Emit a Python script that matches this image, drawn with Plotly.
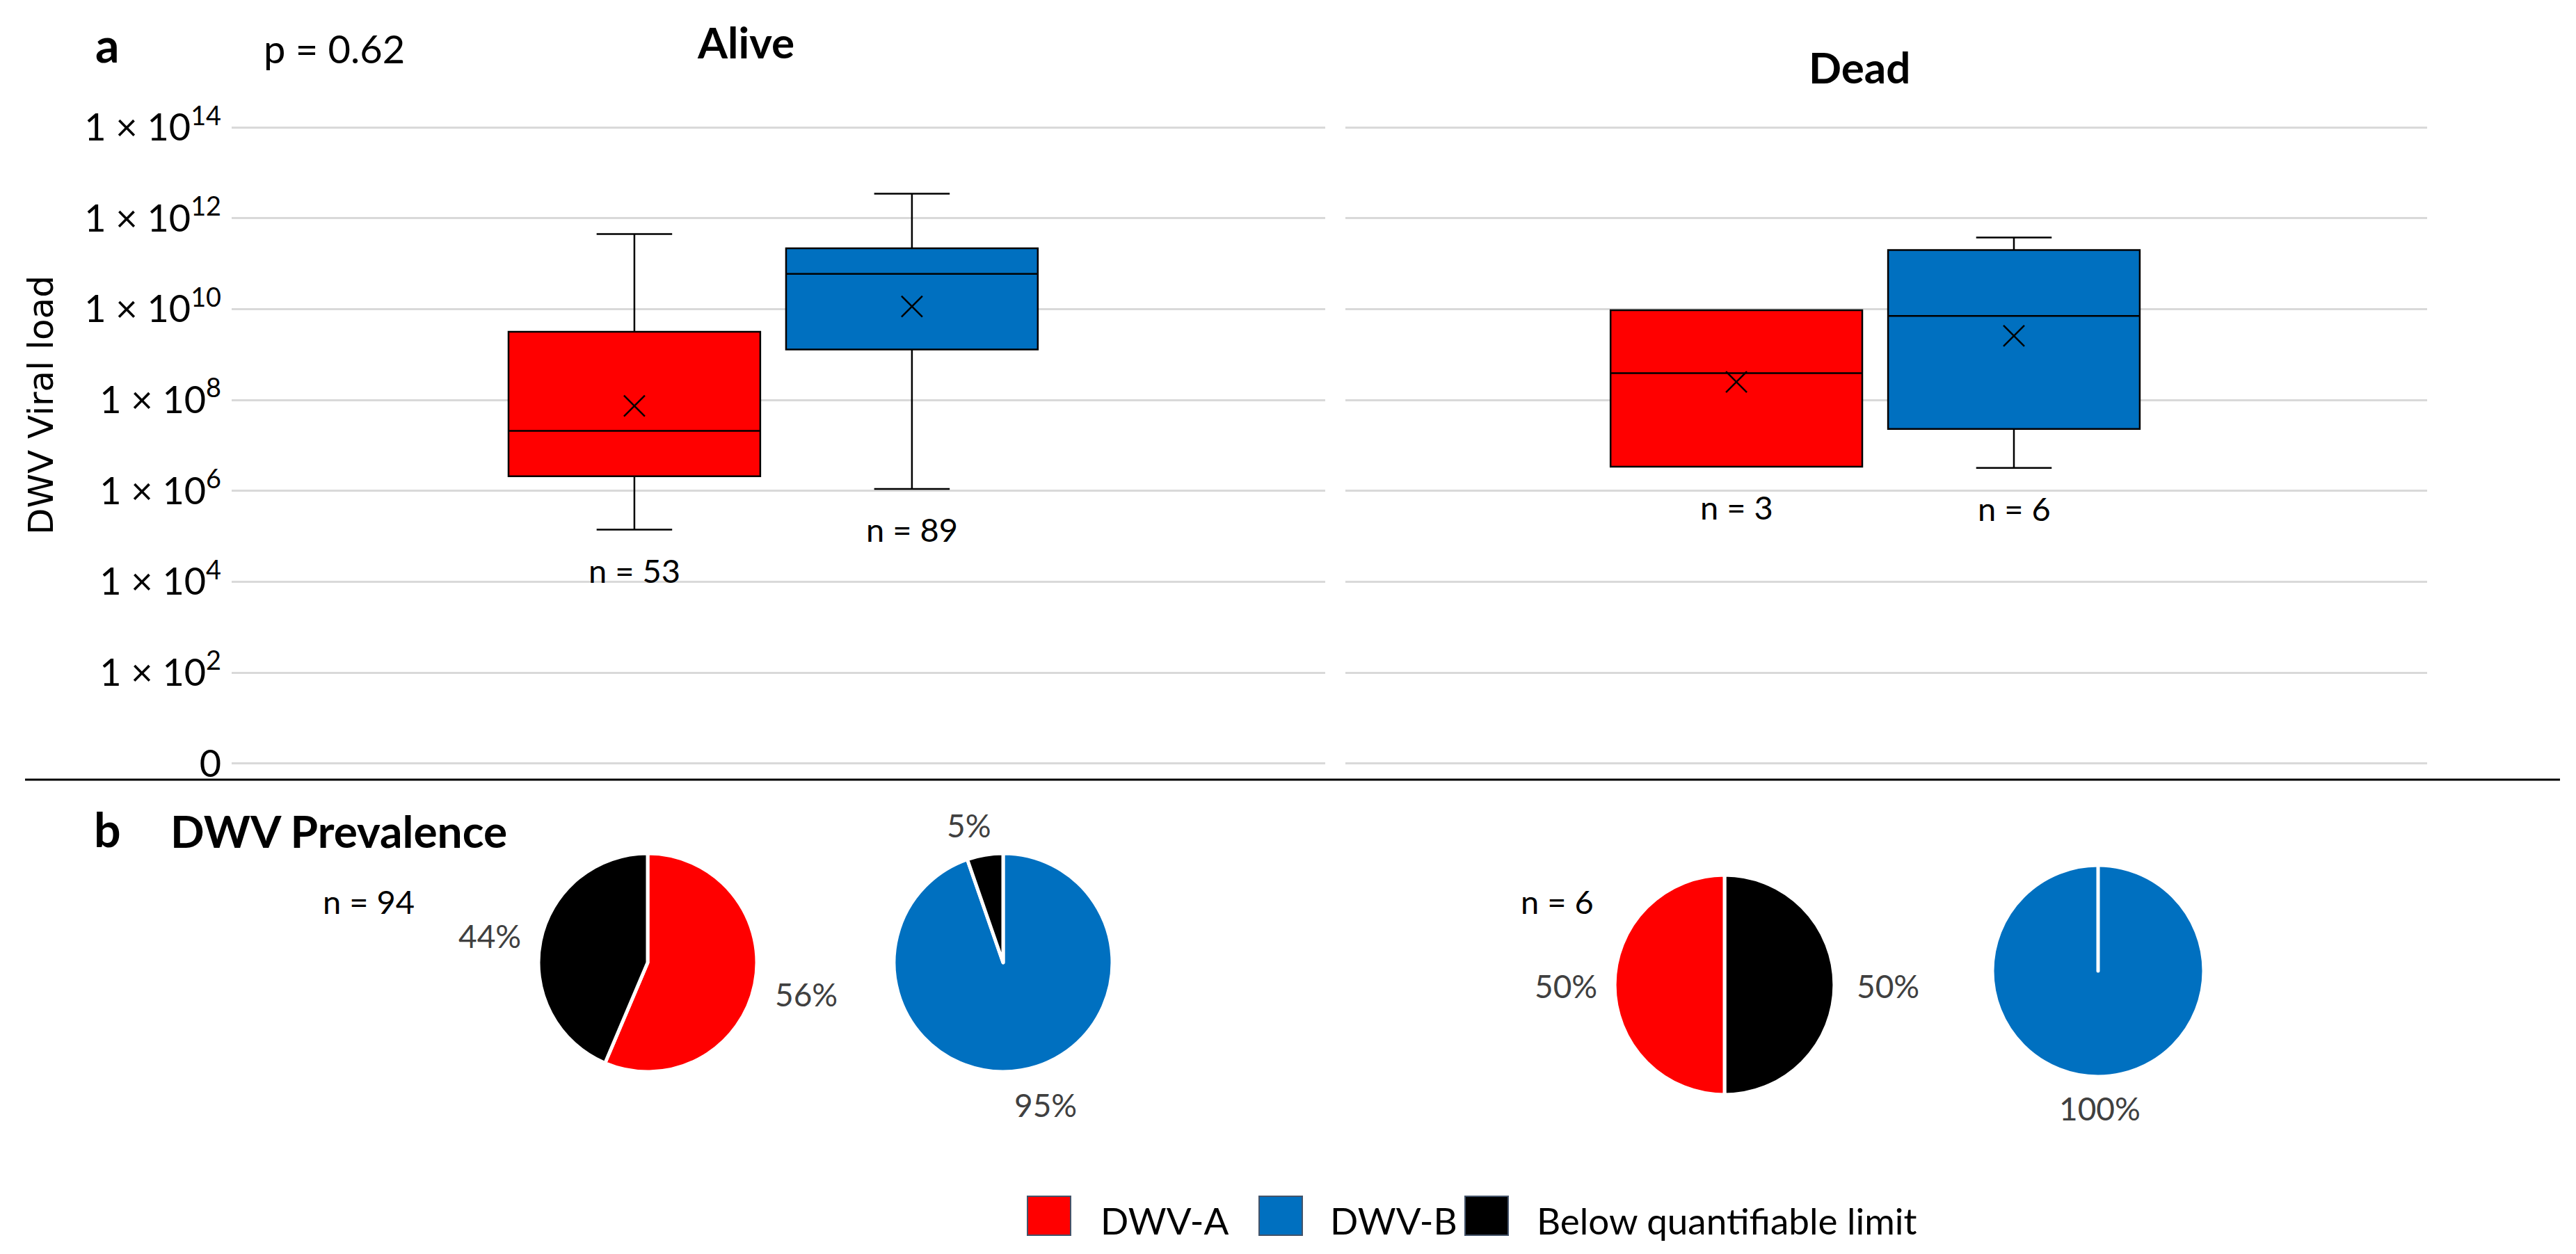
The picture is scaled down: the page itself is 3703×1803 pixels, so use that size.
import math
import plotly.graph_objects as go

W, H = 3703, 1803

# Categories and colours
variants = ["DWV-A", "DWV-B"]
below = "Below quantifiable limit"
colors = {"DWV-A": "#FF0000", "DWV-B": "#0070C0", below: "#000000"}

# Box plot summaries of DWV viral load
alive_lower = [1.4e5, 1.1e6]
alive_q1 = [2.1e6, 1.3e9]
alive_median = [2.1e7, 6.0e10]
alive_q3 = [3.2e9, 2.2e11]
alive_upper = [4.5e11, 3.5e12]
alive_mean = [7.4e7, 1.15e10]
alive_n = [53, 89]

dead_lower = [3.4e6, 3.2e6]
dead_q1 = [3.4e6, 2.3e7]
dead_median = [3.9e8, 7.1e9]
dead_q3 = [9.5e9, 2.0e11]
dead_upper = [9.5e9, 3.8e11]
dead_mean = [2.5e8, 2.6e9]
dead_n = [3, 6]

# Prevalence pies, slices listed clockwise from 12 o'clock
pie_labels = [["DWV-A", below], ["DWV-B", below], [below, "DWV-A"], ["DWV-B", below]]
pie_values = [[53, 41], [89, 5], [3, 3], [6, 0]]
pie_n = [94, 6]

ytick_vals = [1, 1e2, 1e4, 1e6, 1e8, 1e10, 1e12, 1e14]
ytick_text = ["0"] + ["1 × 10<sup>%d</sup>" % k for k in range(2, 15, 2)]

FONT = "Lato, 'Open Sans', sans-serif"


def px(x):
    return x / W


def py(y):
    return 1 - y / H


fig = go.Figure()

panels = [
    ("x", "y", alive_lower, alive_q1, alive_median, alive_q3, alive_upper, alive_mean, alive_n),
    ("x2", "y2", dead_lower, dead_q1, dead_median, dead_q3, dead_upper, dead_mean, dead_n),
]

annotations = []
for xa, ya, lo, q1, med, q3, up, mean, n in panels:
    for j, v in enumerate(variants):
        fig.add_trace(go.Box(
            x=[v], q1=[q1[j]], median=[med[j]], q3=[q3[j]],
            lowerfence=[lo[j]], upperfence=[up[j]],
            width=0.907, whiskerwidth=0.3, boxpoints=False,
            fillcolor=colors[v], line=dict(color="black", width=2.5),
            xaxis=xa, yaxis=ya, showlegend=False,
        ))
        # mean shown as an x, like Excel
        fig.add_trace(go.Scatter(
            x=[v], y=[mean[j]], mode="markers",
            marker=dict(symbol="x-thin", size=30, color="black",
                        line=dict(color="black", width=2.5)),
            xaxis=xa, yaxis=ya, showlegend=False,
        ))
        annotations.append(dict(
            x=v, y=math.log10(lo[j]), xref=xa, yref=ya,
            text="n = %d" % n[j], showarrow=False, yshift=-58,
            xanchor="center", yanchor="middle",
            font=dict(size=47, color="black"),
        ))

# pies (centre x, centre y, radius in px) and where Excel put the % labels
pie_boxes = [(923, 1376, 157), (1434, 1376, 157), (2471, 1408, 158), (3008, 1388, 152)]
pct_pos = [[(1151, 1421), (696, 1337)], [(1495, 1580), (1385, 1178)],
           [(2706, 1409), (2243, 1409)], [(3010, 1585), None]]
for labels, values, (cx, cy, r), pos in zip(pie_labels, pie_values, pie_boxes, pct_pos):
    fig.add_trace(go.Pie(
        labels=labels, values=values, sort=False,
        direction="clockwise", rotation=0,
        marker=dict(colors=[colors[l] for l in labels], line=dict(color="white", width=5)),
        textinfo="none",
        domain=dict(x=[px(cx - r), px(cx + r)], y=[py(cy + r), py(cy - r)]),
        showlegend=False, hoverinfo="label+value",
    ))
    total = sum(values)
    for v, p in zip(values, pos):
        if v == 0:
            continue
        annotations.append(dict(
            x=px(p[0]), y=py(p[1]), xref="paper", yref="paper", showarrow=False,
            text="%d%%" % round(100 * v / total), xanchor="center", yanchor="middle",
            font=dict(size=46, color="#404040"),
        ))

ydom = [py(1091), py(174)]
yaxis_common = dict(
    type="log", range=[-0.02, 14.02], domain=ydom,
    tickvals=ytick_vals, ticktext=ytick_text,
    showgrid=True, gridcolor="#D9D9D9", gridwidth=3,
    ticks="", showline=False, zeroline=False, automargin=False,
)

# headings and free text
texts = [
    ("a", 146, 56, 68, True, "center"),
    ("p = 0.62", 473, 62, 56, False, "center"),
    ("Alive", 1064, 52, 62, True, "center"),
    ("Dead", 2665, 88, 62, True, "center"),
    ("b", 146, 1183, 68, True, "center"),
    ("DWV Prevalence", 235, 1186, 64, True, "left"),
    ("n = %d" % pie_n[0], 522, 1288, 47, False, "center"),
    ("n = %d" % pie_n[1], 2230, 1288, 47, False, "center"),
]
for t, x, y, size, bold, anchor in texts:
    annotations.append(dict(
        x=px(x), y=py(y), xref="paper", yref="paper", showarrow=False,
        text="<b>%s</b>" % t if bold else t, xanchor=anchor, yanchor="middle",
        font=dict(size=size, color="black"),
    ))

annotations.append(dict(
    x=px(51), y=py(575), xref="paper", yref="paper", showarrow=False,
    text="DWV Viral load", textangle=-90, xanchor="center", yanchor="middle",
    font=dict(size=50, color="black", family="DejaVu Sans"),
))

# legend drawn by hand so the swatches can be large
shapes = [dict(type="line", xref="paper", yref="paper",
               x0=px(28), x1=px(3672), y0=py(1113), y1=py(1113),
               line=dict(color="black", width=3))]
legend_items = [("DWV-A", 1469, 1572), ("DWV-B", 1802, 1902), (below, 2098, 2199)]
for name, sx, tx in legend_items:
    shapes.append(dict(type="rect", xref="paper", yref="paper",
                       x0=px(sx), x1=px(sx + 62), y0=py(1768), y1=py(1712),
                       fillcolor=colors[name], line=dict(color="#44546A", width=2)))
    annotations.append(dict(
        x=px(tx), y=py(1746), xref="paper", yref="paper", showarrow=False,
        text=name, xanchor="left", yanchor="middle",
        font=dict(size=53, color="black"),
    ))

fig.update_layout(
    width=W, height=H,
    margin=dict(l=0, r=0, t=0, b=0, autoexpand=False),
    paper_bgcolor="white", plot_bgcolor="white",
    font=dict(family=FONT, color="black"),
    boxmode="overlay", showlegend=False,
    xaxis=dict(domain=[px(325), px(1897)], type="category", categoryarray=variants,
               range=[-1.451, 2.489], showticklabels=False, showgrid=False,
               zeroline=False, showline=False, automargin=False),
    xaxis2=dict(domain=[px(1926), px(3481)], type="category", categoryarray=variants,
                range=[-1.409, 2.489], showticklabels=False, showgrid=False,
                zeroline=False, showline=False, anchor="y2", automargin=False),
    yaxis=dict(**yaxis_common, tickfont=dict(size=54, color="black"), ticklabelstandoff=14),
    yaxis2=dict(**yaxis_common, showticklabels=False, anchor="x2", matches="y"),
    annotations=annotations,
    shapes=shapes,
)

fig.write_html("out.html")
